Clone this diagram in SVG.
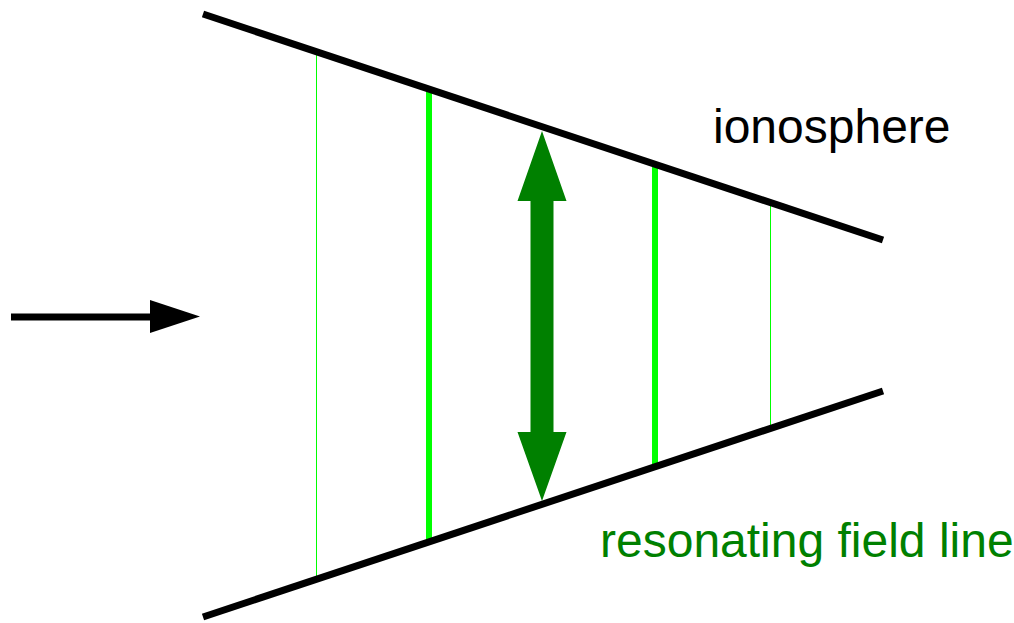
<svg xmlns="http://www.w3.org/2000/svg" width="1014" height="623" viewBox="0 0 1014 623">
<style>
.bound{stroke:#000;stroke-width:7;fill:none}
.thin{stroke:#00ff00;stroke-width:1;fill:none}
.thick{stroke:#00ff00;stroke-width:6;fill:none}
.lbl{font-family:"Liberation Sans",Arial,sans-serif;font-size:48px}
</style>
<rect width="1014" height="623" fill="#fff"/>
<g id="field-lines">
<line class="thin" x1="316.5" y1="52" x2="316.5" y2="579"/>
<line class="thick" x1="429" y1="89" x2="429" y2="542"/>
<line class="thick" x1="655" y1="164" x2="655" y2="467"/>
<line class="thin" x1="770.5" y1="202" x2="770.5" y2="429"/>
</g>
<g id="ionosphere-boundaries">
<line class="bound" x1="203" y1="14" x2="883" y2="240"/>
<line class="bound" x1="203" y1="617" x2="883" y2="391"/>
</g>
<g id="connectors">
<line x1="11" y1="317" x2="152" y2="317" stroke="#000" stroke-width="7"/>
<polygon points="150,300 200,316.5 150,333" fill="#000"/>
<polygon points="542,131 566.5,201 553.5,201 553.5,432 566.5,432 542,501 517.5,432 530.5,432 530.5,201 517.5,201" fill="#008000"/>
</g>
<g id="label-ionosphere">
<text class="lbl" x="713" y="143" fill="#000">ionosphere</text>
</g>
<g id="label-resonating">
<text class="lbl" x="600" y="557" fill="#008000">resonating field line</text>
</g>
</svg>
